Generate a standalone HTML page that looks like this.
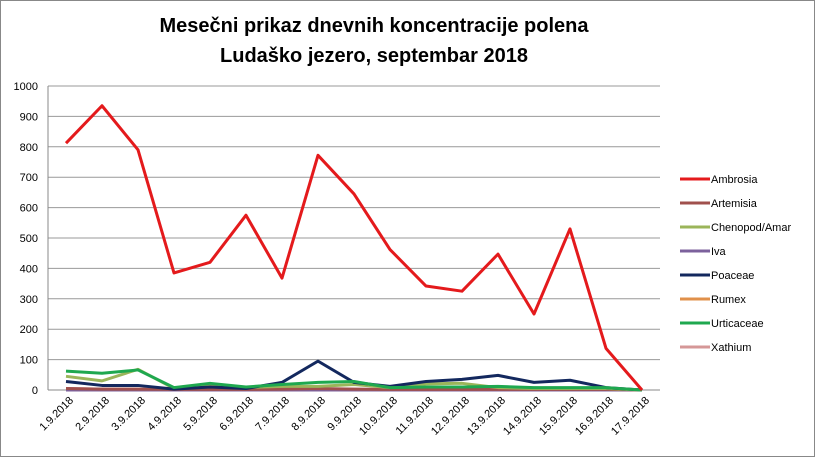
<!DOCTYPE html>
<html><head><meta charset="utf-8"><style>
body{margin:0;background:#fff;font-family:"Liberation Sans",sans-serif}
svg text{font-family:"Liberation Sans",sans-serif}
</style></head><body>
<svg id="c" width="815" height="457">
<rect x="0.5" y="0.5" width="814" height="456" fill="#fff" stroke="#888"/>
<text x="374" y="32" text-anchor="middle" font-size="20" font-weight="bold">Mesečni prikaz dnevnih koncentracije polena</text>
<text x="374" y="62" text-anchor="middle" font-size="20" font-weight="bold">Ludaško jezero, septembar 2018</text>
<g id="grid"></g><g id="lines"></g><g id="legend"></g>
</svg>
<script>
const categories=["1.9.2018","2.9.2018","3.9.2018","4.9.2018","5.9.2018","6.9.2018","7.9.2018","8.9.2018","9.9.2018","10.9.2018","11.9.2018","12.9.2018","13.9.2018","14.9.2018","15.9.2018","16.9.2018","17.9.2018"];
const yTicks=[0,100,200,300,400,500,600,700,800,900,1000];
const seriesNames=["Ambrosia","Artemisia","Chenopod/Amar","Iva","Poaceae","Rumex","Urticaceae","Xathium"];
const ambrosia=[812,935,790,385,420,575,368,772,645,462,342,325,447,250,530,137,0];
const artemisia=[5,3,3,2,2,2,3,5,3,2,2,2,2,2,2,2,0];
const chenopod=[45,30,68,5,15,8,12,12,18,8,20,22,8,5,5,5,0];
const iva=[0,0,0,0,0,0,0,0,0,0,0,0,0,0,0,0,0];
const poaceae=[28,15,15,3,10,5,25,95,25,12,28,35,48,25,32,8,0];
const rumex=[3,2,2,1,1,1,2,2,2,1,1,1,1,1,1,1,0];
const urticaceae=[62,55,66,8,22,10,18,25,28,8,10,10,12,8,8,8,0];
const xathium=[5,3,2,1,1,1,1,2,2,1,1,1,1,1,1,1,0];
const seriesData=[ambrosia,artemisia,chenopod,iva,poaceae,rumex,urticaceae,xathium];
const colors=["#e41a1c","#a0504d","#9bb55a","#7c619c","#13285e","#e0904a","#1fa84f","#d59797"];
const drawOrder=[7,5,3,1,2,4,6,0];
const NS="http://www.w3.org/2000/svg";
const L=48,R=660,T=86,B=390,step=(R-L)/categories.length;
const xp=i=>L+step*(i+0.5), yp=v=>B-(v/1000)*(B-T);
function mk(t,a,p){const e=document.createElementNS(NS,t);for(const k in a)e.setAttribute(k,a[k]);p.appendChild(e);return e;}
const g=document.getElementById('grid');
yTicks.forEach(v=>{
 const ln=mk('line',{x1:L,x2:R,y1:yp(v),y2:yp(v),stroke:v===0?'#888':'#999','stroke-width':1},g);
 
 
 const t=mk('text',{x:L-10,y:yp(v)+4,'text-anchor':'end','font-size':11},g);
 t.textContent=v;
 
 
});
const ax=mk('line',{x1:L,x2:L,y1:T,y2:B,stroke:'#888'},g);


categories.forEach((c,i)=>{
 const x=xp(i)+8,y=B+11;
 const t=mk('text',{x:x,y:y,'text-anchor':'end','font-size':11,transform:`rotate(-45 ${x} ${y})`},g);
 t.textContent=c;
 
 
});
const lg=document.getElementById('lines');
drawOrder.forEach(s=>{
 const pts=seriesData[s].map((v,i)=>xp(i)+','+yp(v)).join(' ');
 const p=mk('polyline',{points:pts,fill:'none',stroke:colors[s],'stroke-width':3,'stroke-linejoin':'round'},lg);
 
 
});
const leg=document.getElementById('legend');
seriesNames.forEach((n,i)=>{
 const y=179+i*24;
 const ln=mk('line',{x1:680,x2:710,y1:y,y2:y,stroke:colors[i],'stroke-width':3},leg);
 
 
 const t=mk('text',{x:711,y:y+4,'font-size':11},leg);
 t.textContent=n;
 
 
});
</script>
</body></html>
